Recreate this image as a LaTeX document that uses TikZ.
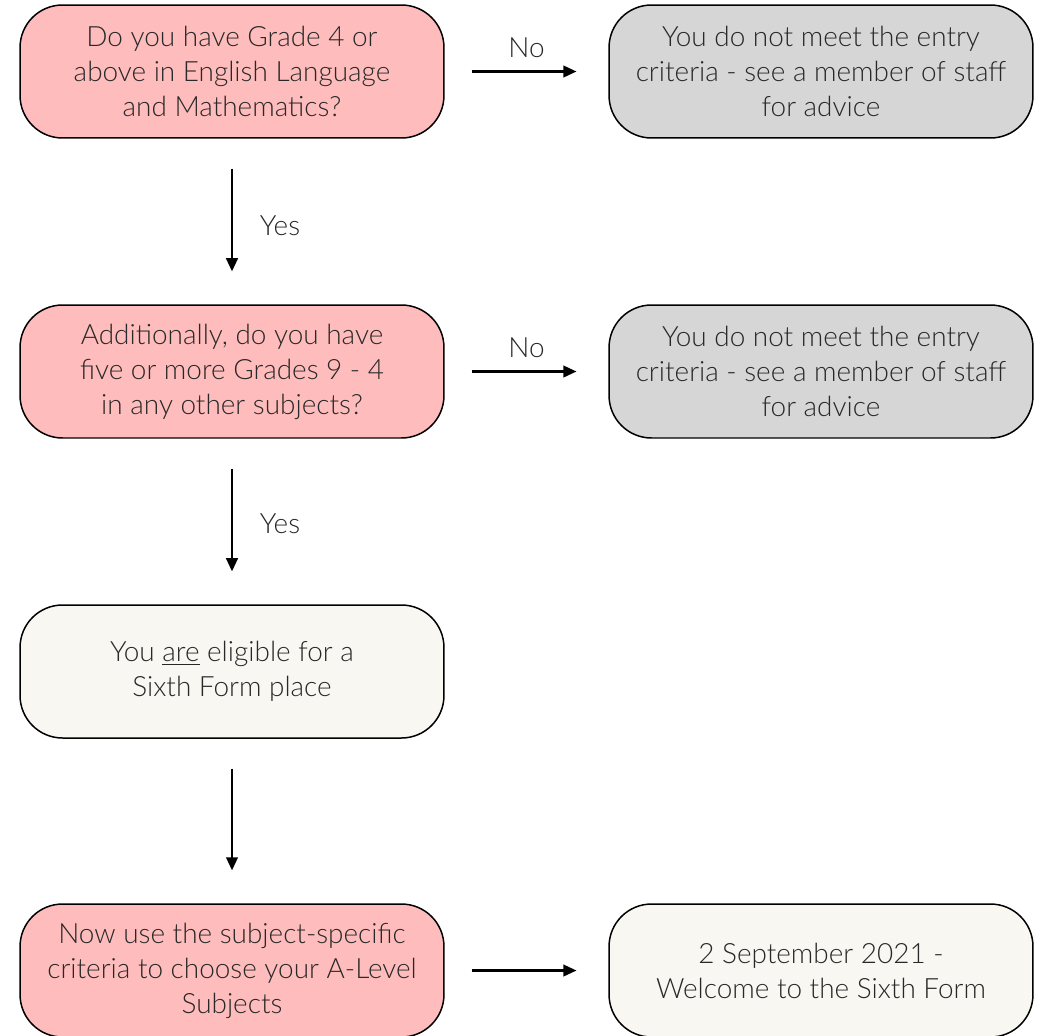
\documentclass[tikz,border=0pt]{standalone}
\usepackage{fontspec}
\setmainfont{Lato Light}
\usetikzlibrary{arrows.meta}

\definecolor{pinkfill}{RGB}{255,188,188}
\definecolor{greyfill}{RGB}{214,214,214}
\definecolor{creamfill}{RGB}{249,247,241}
\definecolor{inkgrey}{RGB}{40,40,40}

\tikzset{
  stepnode/.style={draw=black,line width=0.85pt,rounded corners=0.85cm,
    minimum width=8.48cm,minimum height=2.66cm,align=center,text=inkgrey,
    font=\fontsize{15.9}{19.9}\selectfont},
  pinkbox/.style={stepnode,fill=pinkfill},
  greybox/.style={stepnode,fill=greyfill},
  creambox/.style={stepnode,fill=creamfill},
  flowarrow/.style={-{Triangle[length=7.5pt,width=6.6pt]},line width=1.3pt},
  sidearrow/.style={flowarrow,shorten <=15.3pt,shorten >=18.1pt},
  downarrow/.style={flowarrow,shorten <=17pt,shorten >=18.7pt},
  lbl/.style={text=inkgrey,font=\fontsize{15.9}{19.9}\selectfont}
}

\begin{document}
\begin{tikzpicture}[x=0.02cm,y=-0.02cm]

  \useasboundingbox (0,0) rectangle (1040,1035);

  \node[pinkbox] (q1) at (232,71.5)
    {Do you have Grade 4 or\\above in English Language\\and Mathematics?};
  \node[greybox] (fail1) at (821,71.5)
    {You do not meet the entry\\criteria - see a member of staff\\for advice};
  \node[pinkbox] (q2) at (232,371.5)
    {Additionally, do you have\\five or more Grades 9 - 4\\in any other subjects?};
  \node[greybox] (fail2) at (821,371.5)
    {You do not meet the entry\\criteria - see a member of staff\\for advice};
  \node[creambox] (ok) at (232,671.5)
    {You \underline{are} eligible for a\\Sixth Form place};
  \node[pinkbox] (choose) at (232,970.5)
    {Now use the subject-specific\\criteria to choose your A-Level\\Subjects};
  \node[creambox] (welcome) at (821,970.5)
    {2 September 2021 -\\Welcome to the Sixth Form};

  \draw[sidearrow] (q1) -- node[lbl,above=0.14cm]{No} (fail1);
  \draw[sidearrow] (q2) -- node[lbl,above=0.14cm]{No} (fail2);
  \draw[sidearrow] (choose) -- (welcome);

  \draw[downarrow] (q1) -- node[lbl,right=0.42cm,yshift=-0.08cm]{Yes} (q2);
  \draw[downarrow] (q2) -- node[lbl,right=0.42cm,yshift=-0.04cm]{Yes} (ok);
  \draw[downarrow] (ok) -- (choose);

\end{tikzpicture}
\end{document}
